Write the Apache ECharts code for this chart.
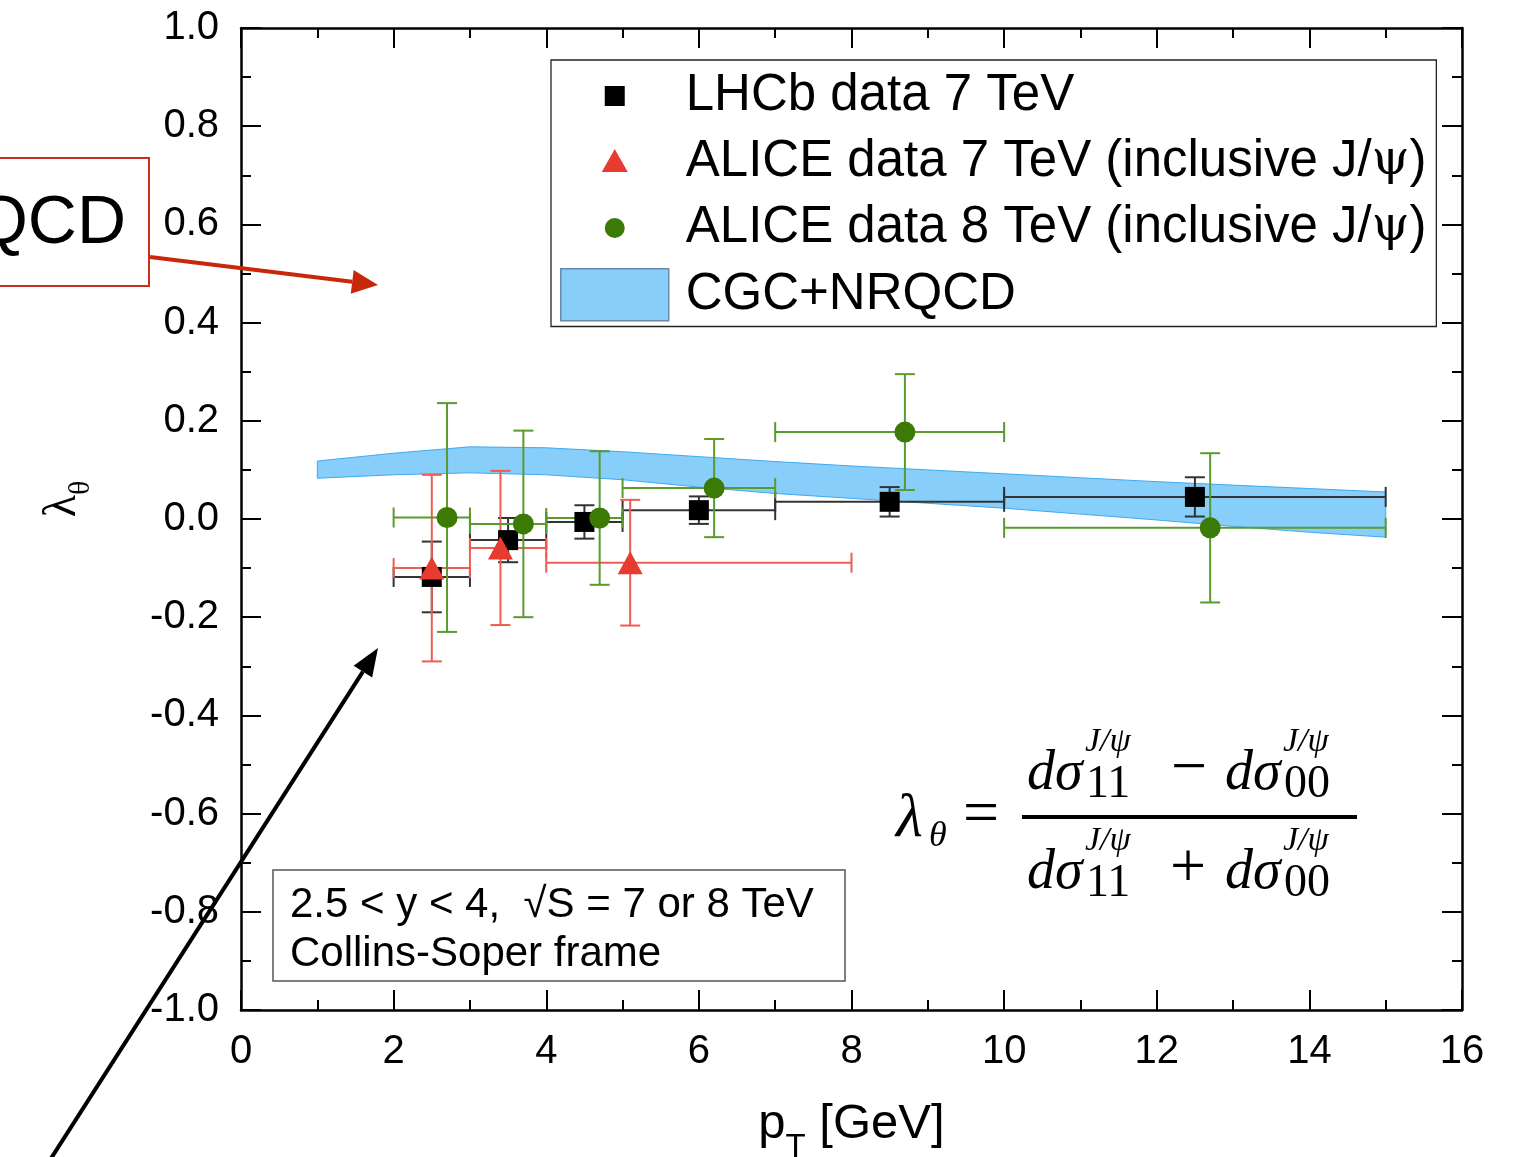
<!DOCTYPE html>
<html>
<head>
<meta charset="utf-8">
<script src="https://cdn.jsdelivr.net/npm/echarts@6/dist/echarts.min.js"></script>
<style>
  html, body { margin: 0; padding: 0; background: #fff; }
  #main { width: 1527px; height: 1157px; }
</style>
</head>
<body>
<div id="main"></div>
<script>
// LHCb data 7 TeV : pT, lambda_theta, bin edges, stat error
const lhcbPt = [2.5, 3.5, 4.5, 6, 8.5, 12.5];
const lhcbLam = [-0.118, -0.043, -0.006, 0.018, 0.035, 0.045];
const lhcbErr = [0.072, 0.045, 0.034, 0.028, 0.03, 0.04];
const lhcbBinLo = [2, 3, 4, 5, 7, 10];
const lhcbBinHi = [3, 4, 5, 7, 10, 15];

// ALICE data 7 TeV
const alice7Pt = [2.5, 3.4, 5.1];
const alice7Lam = [-0.1, -0.059, -0.089];
const alice7Err = [0.19, 0.157, 0.128];
const alice7BinLo = [2, 3, 4];
const alice7BinHi = [3, 4, 8];

// ALICE data 8 TeV
const alice8Pt = [2.7, 3.7, 4.7, 6.2, 8.7, 12.7];
const alice8Lam = [0.003, -0.01, 0.002, 0.063, 0.177, -0.018];
const alice8Err = [0.233, 0.19, 0.136, 0.1, 0.118, 0.152];
const alice8BinLo = [2, 3, 4, 5, 7, 10];
const alice8BinHi = [3, 4, 5, 7, 10, 15];

// CGC+NRQCD band
const bandPt = [1, 2, 3, 4, 5, 6, 7, 8, 9, 10, 11, 12, 13, 14, 15];
const bandUp = [0.118, 0.134, 0.147, 0.145, 0.137, 0.127, 0.117, 0.108, 0.1, 0.092, 0.084, 0.076, 0.069, 0.062, 0.055];
const bandLow = [0.083, 0.09, 0.094, 0.09, 0.08, 0.065, 0.052, 0.042, 0.032, 0.022, 0.01, -0.002, -0.015, -0.027, -0.037];

// axes
const xMin = 0, xMax = 16, xStep = 2;
const yMin = -1, yMax = 1, yStep = 0.2;

const names = ['LHCb data 7 TeV', 'ALICE data 7 TeV (inclusive J/ψ)', 'ALICE data 8 TeV (inclusive J/ψ)', 'CGC+NRQCD'];

const SANS = 'Liberation Sans';
const SERIF = 'Liberation Serif';

var myChart = echarts.init(document.getElementById('main'));

function rows(pt, lam, lo, hi, err) {
  return pt.map((p, i) => [p, lam[i], lo[i], hi[i], err[i]]);
}

// error bars (x bin + y error) for one data set
function makeErrorBars(color) {
  return function (params, api) {
    const pt = api.value(0), lam = api.value(1);
    const lo = api.coord([api.value(2), lam]);
    const hi = api.coord([api.value(3), lam]);
    const top = api.coord([pt, lam + api.value(4)]);
    const bot = api.coord([pt, lam - api.value(4)]);
    const cap = 10;
    const seg = (x1, y1, x2, y2) => ({
      type: 'line',
      shape: { x1: x1, y1: y1, x2: x2, y2: y2 },
      style: { stroke: color, lineWidth: 2 }
    });
    return {
      type: 'group',
      children: [
        seg(lo[0], lo[1], hi[0], hi[1]),
        seg(lo[0], lo[1] - cap, lo[0], lo[1] + cap),
        seg(hi[0], hi[1] - cap, hi[0], hi[1] + cap),
        seg(top[0], top[1], bot[0], bot[1]),
        seg(top[0] - cap, top[1], top[0] + cap, top[1]),
        seg(bot[0] - cap, bot[1], bot[0] + cap, bot[1])
      ]
    };
  };
}

function arrow(x1, y1, x2, y2, color, width, headLen, headW) {
  const a = Math.atan2(y2 - y1, x2 - x1);
  const bx = x2 - headLen * Math.cos(a), by = y2 - headLen * Math.sin(a);
  const nx = -Math.sin(a) * headW / 2, ny = Math.cos(a) * headW / 2;
  return [
    { type: 'line', z: 100, shape: { x1: x1, y1: y1, x2: bx, y2: by }, style: { stroke: color, lineWidth: width } },
    { type: 'polygon', z: 100, shape: { points: [[x2, y2], [bx + nx, by + ny], [bx - nx, by - ny]] }, style: { fill: color } }
  ];
}

function txt(text, x, y, font, align) {
  return {
    type: 'text', z: 100,
    style: { text: text, x: x, y: y, font: font, fill: '#000', align: align || 'left', verticalAlign: 'middle' }
  };
}

// formula lambda_theta = (dσ11 - dσ00)/(dσ11 + dσ00)
const fBig = 'italic 56px "' + SERIF + '"';
const fSup = 'italic 34px "' + SERIF + '"';
const fSub = '46px "' + SERIF + '"';
const fOp = '64px "' + SERIF + '"';
function fracTerm(x, yBase, sub) {
  return [
    txt('dσ', x, yBase - 18, fBig),
    txt('J/ψ', x + 58, yBase - 50, fSup),
    txt(sub, x + 59, yBase - 7, fSub)
  ];
}
const formula = [].concat(
  [txt('λ', 896, 820, 'italic 62px "' + SERIF + '"'), txt('θ', 929, 837, 'italic 36px "' + SERIF + '"'), txt('=', 963, 816, fOp)],
  fracTerm(1027, 792, '11'), [txt('−', 1171, 770, fOp)], fracTerm(1225, 792, '00'),
  [{ type: 'line', z: 100, shape: { x1: 1022, y1: 817, x2: 1357, y2: 817 }, style: { stroke: '#000', lineWidth: 4 } }],
  fracTerm(1027, 891, '11'), [txt('+', 1170, 870, fOp)], fracTerm(1225, 891, '00')
);

const axisCommon = {
  type: 'value',
  splitLine: { show: false },
  axisLine: { show: true, onZero: false, lineStyle: { color: '#000', width: 2.5 } },
  axisTick: { show: true, inside: true, length: 20, lineStyle: { color: '#000', width: 2 } },
  minorTick: { show: true, splitNumber: 2, length: 10, lineStyle: { color: '#000', width: 2 } }
};

var option = {
  animation: false,
  backgroundColor: '#fff',
  grid: { left: 241, right: 65, top: 28, bottom: 147, containLabel: false, outerBoundsMode: 'none' },
  xAxis: [
    Object.assign({}, axisCommon, {
      min: xMin, max: xMax, interval: xStep, position: 'bottom',
      axisLabel: { margin: 22, fontFamily: SANS, fontSize: 40, color: '#000', formatter: v => String(v) },
      name: '{a|p}{s|T}{a| [GeV]}',
      nameLocation: 'middle', nameGap: 90,
      nameTextStyle: {
        rich: {
          a: { fontFamily: SANS, fontSize: 49, color: '#000', verticalAlign: 'top', lineHeight: 64 },
          s: { fontFamily: SANS, fontSize: 33, color: '#000', verticalAlign: 'bottom', lineHeight: 64 }
        }
      }
    }),
    Object.assign({}, axisCommon, {
      min: xMin, max: xMax, interval: xStep, position: 'top', axisLabel: { show: false }
    })
  ],
  yAxis: [
    Object.assign({}, axisCommon, {
      min: yMin, max: yMax, interval: yStep, position: 'left',
      axisLabel: { margin: 22, fontFamily: SANS, fontSize: 40, color: '#000', formatter: v => v.toFixed(1) },
      name: '{l|λ}{s|θ}',
      nameLocation: 'middle', nameGap: 145, nameRotate: 90,
      nameTextStyle: {
        padding: [0, 0, 0, 40],
        rich: {
          l: { fontFamily: SERIF, fontSize: 46, color: '#000', verticalAlign: 'top', lineHeight: 56 },
          s: { fontFamily: SERIF, fontSize: 30, color: '#000', verticalAlign: 'bottom', lineHeight: 56 }
        }
      }
    }),
    Object.assign({}, axisCommon, {
      min: yMin, max: yMax, interval: yStep, position: 'right', axisLabel: { show: false }
    })
  ],
  legend: {
    orient: 'vertical', left: 551, top: 60,
    padding: [10, 10, 5, 9],
    borderColor: '#222', borderWidth: 1.3, backgroundColor: '#fff',
    itemWidth: 108, itemHeight: 52, itemGap: 14,
    selectedMode: false,
    formatter: function (name) {
      return name.replace('ψ', '{p|ψ}');
    },
    textStyle: {
      fontFamily: SANS, fontSize: 51, color: '#000', lineHeight: 52, padding: [0, 0, 0, 12],
      rich: { p: { fontFamily: 'DejaVu Serif', fontSize: 48, color: '#000', lineHeight: 52 } }
    },
    data: [
      { name: names[0], icon: 'path://M0 0M108 52M44 16L64 16L64 36L44 36Z' },
      { name: names[1], icon: 'path://M0 0M108 52M54 13L67 36L41 36Z' },
      { name: names[2], icon: 'path://M0 0M108 52M44 26A10 10 0 1 1 64 26A10 10 0 1 1 44 26Z' },
      { name: names[3], icon: 'rect', itemStyle: { color: '#87cefa', borderColor: '#6a8aa8', borderWidth: 1.5 } }
    ]
  },
  graphic: [
    // text box
    { type: 'rect', z: 90, shape: { x: 273, y: 870, width: 572, height: 111 }, style: { fill: '#fff', stroke: '#555', lineWidth: 1.5 } },
    txt('2.5 < y < 4,  √S = 7 or 8 TeV', 290, 905, '42px "' + SANS + '"'),
    txt('Collins-Soper frame', 290, 954, '42px "' + SANS + '"'),
    // annotation box on the left
    { type: 'rect', z: 90, shape: { x: -10, y: 158, width: 159, height: 128 }, style: { fill: '#fff', stroke: '#c9301a', lineWidth: 2 } },
    txt('QCD', 126, 224, '68px "' + SANS + '"', 'right')
  ].concat(
    arrow(150, 257, 378, 285, '#c8280a', 4, 26, 24),
    arrow(50, 1160, 378, 648, '#000', 4, 28, 22),
    formula
  ),
  series: [
    {
      name: names[3],
      type: 'custom',
      z: 1,
      itemStyle: { color: '#87cefa' },
      data: bandPt.map((p, i) => [p, bandLow[i], bandUp[i]]),
      encode: { x: 0, y: 1 },
      renderItem: function (params, api) {
        if (params.dataIndex !== 0) return null;
        const pts = [];
        for (let i = 0; i < bandPt.length; i++) pts.push(api.coord([bandPt[i], bandUp[i]]));
        for (let i = bandPt.length - 1; i >= 0; i--) pts.push(api.coord([bandPt[i], bandLow[i]]));
        return { type: 'polygon', shape: { points: pts }, style: { fill: '#87cefa', stroke: '#3eaaf0', lineWidth: 1 } };
      }
    },
    { type: 'custom', name: 'lhcbErr', z: 2, data: rows(lhcbPt, lhcbLam, lhcbBinLo, lhcbBinHi, lhcbErr), encode: { x: 0, y: 1 }, renderItem: makeErrorBars('#333') },
    { type: 'custom', name: 'alice7Err', z: 2, data: rows(alice7Pt, alice7Lam, alice7BinLo, alice7BinHi, alice7Err), encode: { x: 0, y: 1 }, renderItem: makeErrorBars('#ee5c52') },
    { type: 'custom', name: 'alice8Err', z: 2, data: rows(alice8Pt, alice8Lam, alice8BinLo, alice8BinHi, alice8Err), encode: { x: 0, y: 1 }, renderItem: makeErrorBars('#5a9a2c') },
    {
      name: names[0], type: 'scatter', z: 3, symbol: 'rect', symbolSize: 20,
      itemStyle: { color: '#000', opacity: 1 },
      data: lhcbPt.map((p, i) => [p, lhcbLam[i]])
    },
    {
      name: names[1], type: 'scatter', z: 3, symbol: 'triangle', symbolSize: [25, 23],
      itemStyle: { color: '#e63b2e', opacity: 1 },
      data: alice7Pt.map((p, i) => [p, alice7Lam[i]])
    },
    {
      name: names[2], type: 'scatter', z: 3, symbol: 'circle', symbolSize: 21,
      itemStyle: { color: '#3c7a06', opacity: 1 },
      data: alice8Pt.map((p, i) => [p, alice8Lam[i]])
    }
  ]
};
myChart.setOption(option);
</script>
</body>
</html>
